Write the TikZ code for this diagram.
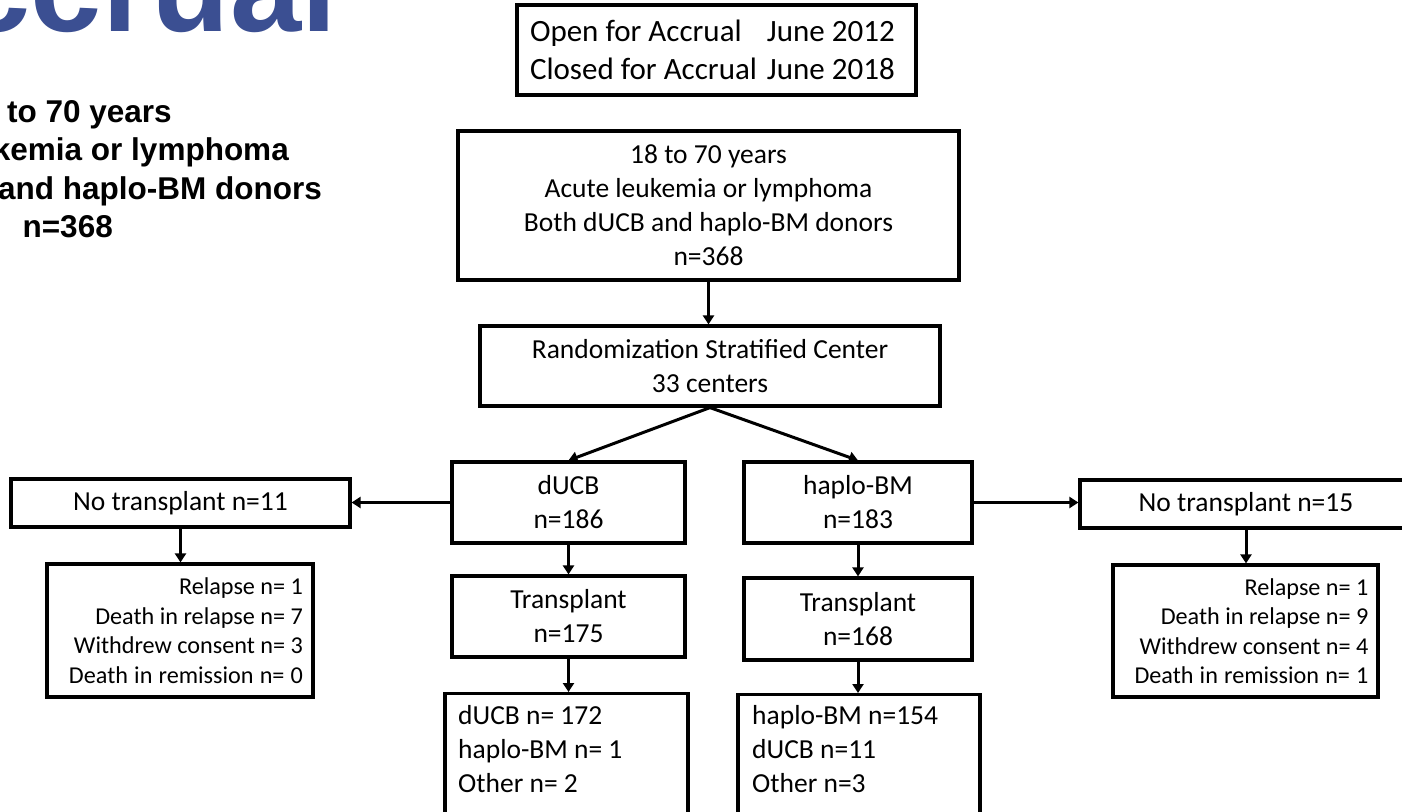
\documentclass[tikz,border=0pt]{standalone}
\usepackage{fontspec}
\setmainfont{Carlito}
\newfontfamily\headfont{Liberation Sans}
\usetikzlibrary{arrows.meta}
\definecolor{titleblue}{RGB}{59,79,146}
\newcommand\natspaceR{\spaceskip=0pt\xspaceskip=0pt\leftskip=0pt plus 1fil\rightskip=0pt\relax}
\newcommand\natspaceL{\spaceskip=0pt\xspaceskip=0pt\rightskip=0pt plus 1fil\leftskip=0pt\relax}
\begin{document}
\begin{tikzpicture}[x=1pt,y=-1pt,
  box/.style={draw=black, line width=3.2pt, inner sep=0pt, align=center,
    font=\fontsize{27.5}{34}\selectfont},
  outbox/.style={box, align=right, text width=246pt,
    font=\fontsize{24.2}{29.5}\selectfont},
  plaintext/.style={inner sep=0pt, align=left, font=\fontsize{27.5}{34}\selectfont},
  boldtext/.style={inner sep=0pt, font=\headfont\bfseries\fontsize{31.5}{38}\selectfont},
  conn/.style={line width=3pt, -{Triangle[length=9pt,width=11pt]}},
]
\useasboundingbox (0,0) rectangle (1402,811);
\clip (0,0) rectangle (1402,811);

% title and side text (cut off by the slide edge)
\node[anchor=base east, inner sep=0pt, text=titleblue,
  font=\headfont\bfseries\fontsize{128}{128}\selectfont] (title) at (337,31) {ccrual};
\node[boldtext, anchor=base east] (lb1) at (172,122) {to 70 years};
\node[boldtext, anchor=base east] (lb2) at (289,160) {kemia or lymphoma};
\node[boldtext, anchor=base east] (lb3) at (322,199) {and haplo-BM donors};
\node[boldtext, anchor=base east] (lb4) at (113,237) {n=368};

% boxes
\node[box, minimum width=399pt, minimum height=90pt, align=left, text width=373pt,
  font=\fontsize{31}{38}\selectfont] (open) at (716.5,50)
  {\natspaceL\makebox[237pt][l]{Open for Accrual}June 2012\\\makebox[237pt][l]{Closed for Accrual}June 2018};
\node[box, minimum width=501pt, minimum height=149pt] (main) at (708.5,205.5)
  {18 to 70 years\\Acute leukemia or lymphoma\\Both dUCB and haplo-BM donors\\n=368};
\node[box, minimum width=460pt, minimum height=80pt] (rand) at (710,366)
  {Randomization Stratified Center\\33 centers};
\node[box, minimum width=233pt, minimum height=81pt] (ducb) at (568.5,502.5) {dUCB\\n=186};
\node[box, minimum width=228pt, minimum height=81pt] (haplo) at (858,502.5) {haplo-BM\\n=183};
\node[box, minimum width=233pt, minimum height=81pt] (transL) at (568.5,616.5) {Transplant\\n=175};
\node[box, minimum width=228pt, minimum height=82pt] (transR) at (858,619) {Transplant\\n=168};
\node[box, minimum width=339pt, minimum height=48pt] (ntL) at (180.5,503) {No transplant n=11};
\node[box, minimum width=332pt, minimum height=48pt] (ntR) at (1246,504) {No transplant n=15};
\node[outbox, minimum width=266pt, minimum height=133pt] (outL) at (180,630.5)
  {\natspaceR Relapse n= 1\\Death in relapse n= 7\\Withdrew consent n= 3\\Death in remission n= 0};
\node[outbox, minimum width=265pt, minimum height=132pt] (outR) at (1245.5,631)
  {\natspaceR Relapse n= 1\\Death in relapse n= 9\\Withdrew consent n= 4\\Death in remission n= 1};
\node[box, anchor=north, minimum width=243pt, minimum height=140pt] (botL) at (566.5,692) {};
\node[box, anchor=north, minimum width=242pt, minimum height=140pt] (botR) at (859,693) {};
\node[plaintext, anchor=base west] (botLtext) at (458,792) {dUCB n= 172\\haplo-BM n= 1\\Other n= 2};
\node[plaintext, anchor=base west] (botRtext) at (752,792) {haplo-BM n=154\\dUCB n=11\\Other n=3};

% connectors
\draw[conn] (main.south) -- (main.south |- rand.north);
\draw[conn] (rand.south) -- (ducb.north);
\draw[conn] (rand.south) -- (haplo.north);
\draw[conn] (ducb.west) -- (ducb.west -| ntL.east);
\draw[conn] (haplo.east) -- (haplo.east -| ntR.west);
\draw[conn] (ntL.south) -- (ntL.south |- outL.north);
\draw[conn] (ntR.south) -- (ntR.south |- outR.north);
\draw[conn] (ducb.south) -- (ducb.south |- transL.north);
\draw[conn] (haplo.south) -- (haplo.south |- transR.north);
\draw[conn] (transL.south) -- (transL.south |- botL.north);
\draw[conn] (transR.south) -- (transR.south |- botR.north);
\end{tikzpicture}
\end{document}
